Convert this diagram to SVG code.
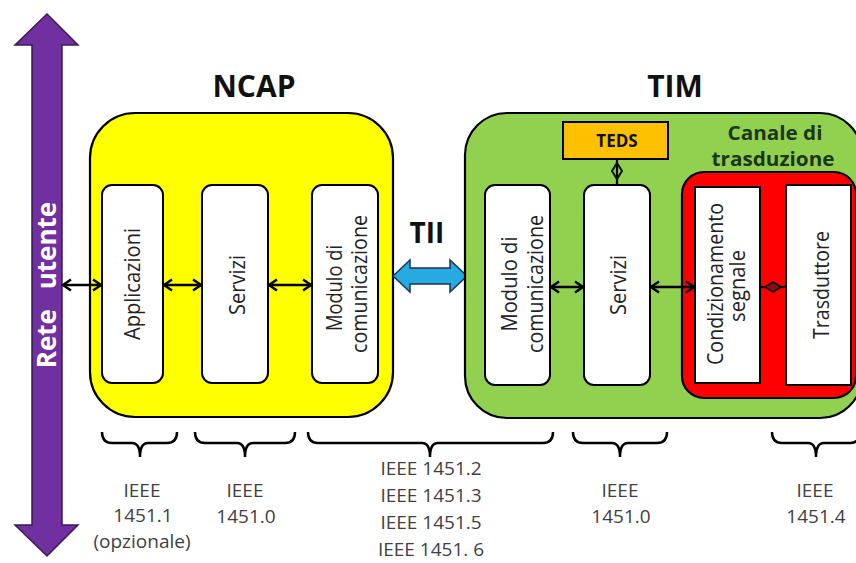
<svg xmlns="http://www.w3.org/2000/svg" width="856" height="563" viewBox="0 0 856 563">
<defs>
<style>
.box{stroke:#000;stroke-width:2.2}
.inner{fill:#fff;stroke:#000;stroke-width:2}
.vt{font-family:"Open Sans","Liberation Sans",sans-serif;font-size:22px;fill:#222;text-anchor:middle}
.title{font-family:"Open Sans","Liberation Sans",sans-serif;font-weight:bold;font-size:30px;fill:#111;text-anchor:middle}
.std{font-family:"Open Sans","Liberation Sans",sans-serif;font-size:19px;fill:#3f3f3f;text-anchor:middle}
.conn{stroke:#000;stroke-width:2.5;fill:none}
.brace{stroke:#000;stroke-width:2.5;fill:none}
</style>
<marker id="ah" viewBox="-10 -7 12 14" refX="0" refY="0" markerWidth="12" markerHeight="14" markerUnits="userSpaceOnUse" orient="auto-start-reverse" overflow="visible">
<path d="M-8,-5.5 L0,0 L-8,5.5" fill="none" stroke="#000" stroke-width="2.5"/>
</marker>
</defs>
<rect width="856" height="563" fill="#fff"/>

<g id="rete-utente">
<polygon points="47,14 78,45 62,45 62,525 78,525 47,556 15,525 32,525 32,45 15,45" fill="#7030A0" stroke="#3a1a55" stroke-width="1.5"/>
<text transform="translate(56,285) rotate(-90)" font-family="Open Sans, Liberation Sans, sans-serif" font-weight="bold" font-size="26" fill="#fff" text-anchor="middle">Rete<tspan dx="13"> utente</tspan></text>
</g>

<g id="ncap">
<text class="title" x="254" y="97">NCAP</text>
<rect class="box" x="90" y="113" width="303" height="304" rx="45" fill="#FFFF00"/>
</g>
<g id="ncap-applicazioni">
<rect class="inner" x="102" y="185" width="61" height="198" rx="10"/>
<text class="vt" transform="translate(140,284) rotate(-90)" textLength="112" lengthAdjust="spacingAndGlyphs">Applicazioni</text>
</g>
<g id="ncap-servizi">
<rect class="inner" x="202" y="185" width="66" height="198" rx="10"/>
<text class="vt" transform="translate(245,285) rotate(-90)" textLength="60" lengthAdjust="spacingAndGlyphs">Servizi</text>
</g>
<g id="ncap-modulo">
<rect class="inner" x="312" y="185" width="66" height="198" rx="10"/>
<text class="vt" transform="translate(342,288) rotate(-90)" textLength="86" lengthAdjust="spacingAndGlyphs">Modulo di</text>
<text class="vt" transform="translate(367,284) rotate(-90)" textLength="138" lengthAdjust="spacingAndGlyphs">comunicazione</text>
</g>

<g id="tii">
<text x="427" y="243" font-family="Open Sans, Liberation Sans, sans-serif" font-weight="bold" font-size="28" fill="#111" text-anchor="middle">TII</text>
<polygon points="393,276 410,260 410,268 450,268 450,260 467,276 450,292 450,284 410,284 410,292" fill="#27A9E1" stroke="#1b3550" stroke-width="1.5"/>
</g>

<g id="tim">
<text class="title" x="675" y="97">TIM</text>
<rect class="box" x="465" y="113" width="397" height="305" rx="42" fill="#92D050"/>
<text x="775" y="140" font-family="Open Sans, Liberation Sans, sans-serif" font-weight="bold" font-size="20" fill="#1c361c" text-anchor="middle" textLength="95" lengthAdjust="spacingAndGlyphs">Canale di</text>
<text x="773" y="166" font-family="Open Sans, Liberation Sans, sans-serif" font-weight="bold" font-size="20" fill="#1c361c" text-anchor="middle" textLength="123" lengthAdjust="spacingAndGlyphs">trasduzione</text>
</g>
<g id="teds">
<rect x="563" y="122" width="105" height="37" fill="#FFC000" stroke="#000" stroke-width="2"/>
<text x="617" y="147" font-family="Open Sans, Liberation Sans, sans-serif" font-weight="bold" font-size="17" fill="#111" text-anchor="middle">TEDS</text>
</g>
<g id="tim-modulo">
<rect class="inner" x="485" y="185" width="65" height="200" rx="10"/>
<text class="vt" transform="translate(517,284) rotate(-90)" textLength="95" lengthAdjust="spacingAndGlyphs">Modulo di</text>
<text class="vt" transform="translate(543,284) rotate(-90)" textLength="138" lengthAdjust="spacingAndGlyphs">comunicazione</text>
</g>
<g id="tim-servizi">
<rect class="inner" x="584" y="185" width="66" height="200" rx="10"/>
<text class="vt" transform="translate(626,285) rotate(-90)" textLength="60" lengthAdjust="spacingAndGlyphs">Servizi</text>
</g>
<g id="canale">
<rect x="682" y="172" width="174" height="226" rx="22" fill="#FF0000" stroke="#000" stroke-width="2.2"/>
</g>
<g id="condizionamento">
<rect class="inner" x="695" y="187" width="65" height="196"/>
<text class="vt" transform="translate(723,284) rotate(-90)" textLength="162" lengthAdjust="spacingAndGlyphs">Condizionamento</text>
<text class="vt" transform="translate(745,286) rotate(-90)" textLength="72" lengthAdjust="spacingAndGlyphs">segnale</text>
</g>
<g id="trasduttore">
<rect class="inner" x="786" y="185" width="65" height="200"/>
<text class="vt" transform="translate(829,285) rotate(-90)" textLength="108" lengthAdjust="spacingAndGlyphs">Trasduttore</text>
</g>

<g id="connectors">
<line class="conn" x1="63" y1="285" x2="101" y2="285" marker-start="url(#ah)" marker-end="url(#ah)"/>
<line class="conn" x1="164" y1="285" x2="201" y2="285" marker-start="url(#ah)" marker-end="url(#ah)"/>
<line class="conn" x1="269" y1="285" x2="311" y2="285" marker-start="url(#ah)" marker-end="url(#ah)"/>
<line class="conn" x1="551" y1="287" x2="583" y2="287" marker-start="url(#ah)" marker-end="url(#ah)"/>
<line class="conn" x1="651" y1="287" x2="694" y2="287" marker-start="url(#ah)" marker-end="url(#ah)"/>
<line x1="617" y1="159" x2="617" y2="185" stroke="#000" stroke-width="2.2"/>
<polygon points="617,163 622,171 617,179 612,171" fill="none" stroke="#111" stroke-width="2"/>
<line x1="760" y1="287" x2="786" y2="287" stroke="#000" stroke-width="2.2"/>
<polygon points="765,287 773,282 781,287 773,292" fill="#8a1010" stroke="#111" stroke-width="1.8"/>
</g>

<g id="standards">
<path class="brace" d="M102,432 Q102,443 112,443 L132,443 Q140,443 140,457 Q140,443 148,443 L167,443 Q177,443 177,432"/>
<path class="brace" d="M195,432 Q195,443 205,443 L237,443 Q245,443 245,457 Q245,443 253,443 L285,443 Q295,443 295,432"/>
<path class="brace" d="M308,432 Q308,443 318,443 L422,443 Q430,443 430,457 Q430,443 438,443 L543,443 Q553,443 553,432"/>
<path class="brace" d="M573,432 Q573,443 583,443 L612,443 Q620,443 620,457 Q620,443 628,443 L657,443 Q667,443 667,432"/>
<path class="brace" d="M772,432 Q772,443 782,443 L808,443 Q816,443 816,457 Q816,443 824,443 L850,443 Q860,443 860,432"/>
<text class="std" x="142" y="497">IEEE</text>
<text class="std" x="143" y="522">1451.1</text>
<text class="std" x="142" y="548" font-size="15.5">(opzionale)</text>
<text class="std" x="245" y="497">IEEE</text>
<text class="std" x="246" y="523">1451.0</text>
<text class="std" x="431" y="475">IEEE 1451.2</text>
<text class="std" x="431" y="502">IEEE 1451.3</text>
<text class="std" x="431" y="529">IEEE 1451.5</text>
<text class="std" x="431" y="556">IEEE 1451. 6</text>
<text class="std" x="620" y="497">IEEE</text>
<text class="std" x="621" y="523">1451.0</text>
<text class="std" x="815" y="497">IEEE</text>
<text class="std" x="816" y="523">1451.4</text>
</g>
</svg>
